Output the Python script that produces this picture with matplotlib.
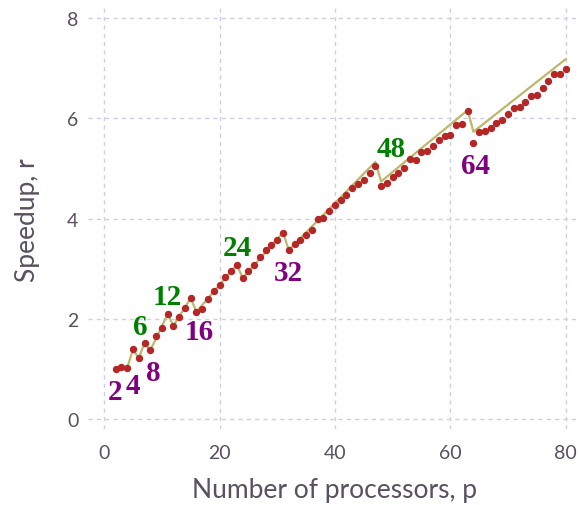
import matplotlib
matplotlib.use("Agg")
import matplotlib.pyplot as plt

# measured speedup for p = 2..80
procs = list(range(2, 81))
speedup = [0.99, 1.03, 1.02, 1.39, 1.21, 1.52, 1.37, 1.66, 1.81, 2.09,
           1.86, 2.03, 2.22, 2.41, 2.14, 2.20, 2.39, 2.55, 2.68, 2.83,
           2.95, 3.08, 2.81, 2.96, 3.07, 3.24, 3.37, 3.48, 3.58, 3.72,
           3.37, 3.50, 3.57, 3.68, 3.77, 3.99, 4.01, 4.15, 4.27, 4.36,
           4.47, 4.60, 4.68, 4.76, 4.91, 5.04, 4.64, 4.70, 4.82, 4.91,
           5.00, 5.19, 5.16, 5.33, 5.34, 5.45, 5.56, 5.65, 5.66, 5.86,
           5.89, 6.14, 5.50, 5.72, 5.75, 5.81, 5.90, 5.96, 6.08, 6.20,
           6.23, 6.32, 6.44, 6.46, 6.60, 6.75, 6.89, 6.89, 6.98]

# model curve (vertices)
model_p = [4, 5, 6, 7, 8, 11, 12, 15, 16, 23, 24, 31, 32, 47, 48, 63, 64, 80]
model_r = [1.02, 1.39, 1.21, 1.52, 1.37, 2.09, 1.86, 2.41, 2.14, 3.08,
           2.81, 3.72, 3.37, 5.13, 4.74, 6.16, 5.73, 7.18]

# annotations
pow2_labels = ["2", "4", "8", "16", "32", "64"]
pow2_x = [1.9, 4.9, 8.5, 16.5, 31.9, 64.3]
pow2_y = [0.54, 0.66, 0.92, 1.74, 2.93, 5.06]
other_labels = ["6", "12", "24", "48"]
other_x = [6.2, 11.0, 23.0, 49.7]
other_y = [1.84, 2.45, 3.42, 5.39]

txt = "#5a5060"
fig = plt.figure(figsize=(5.79, 5.06), dpi=100)
ax = fig.add_axes([88 / 579, 76 / 506, 491 / 579, 423 / 506])

ax.plot(model_p, model_r, color="#bdb76b", lw=1.6, zorder=2)
ax.plot(procs, speedup, "o", color="#b52626", ms=4.3, zorder=3)

for s, x, y in zip(pow2_labels, pow2_x, pow2_y):
    ax.text(x, y, s, color="#800080", fontsize=21, fontweight="bold",
            family="Liberation Serif", ha="center", va="center", zorder=4)
for s, x, y in zip(other_labels, other_x, other_y):
    ax.text(x, y, s, color="#008000", fontsize=21, fontweight="bold",
            family="Liberation Serif", ha="center", va="center", zorder=4)

ax.set_xlim(-2.8, 82.3)
ax.set_ylim(-0.2, 8.24)
ax.set_xticks([0, 20, 40, 60, 80])
ax.set_yticks([0, 2, 4, 6, 8])
ax.grid(True, color="#cfcfe3", ls=(0, (3, 3)), lw=1.0)
for sp in ax.spines.values():
    sp.set_visible(False)
ax.tick_params(length=0, labelsize=14, labelcolor=txt, pad=11)
ax.tick_params(axis="y", pad=7)
for lab in ax.get_xticklabels() + ax.get_yticklabels():
    lab.set_family("Lato")

ax.set_xlabel("Number of processors, p", fontsize=19, color=txt,
              family="Lato")
ax.set_ylabel("Speedup, r", fontsize=19, color=txt, family="Lato")
ax.xaxis.set_label_coords((334 - 88) / 491, -(478 - 430) / 423)
ax.yaxis.set_label_coords(-(88 - 40) / 491, 0.497)

fig.savefig("out.png", dpi=100)
